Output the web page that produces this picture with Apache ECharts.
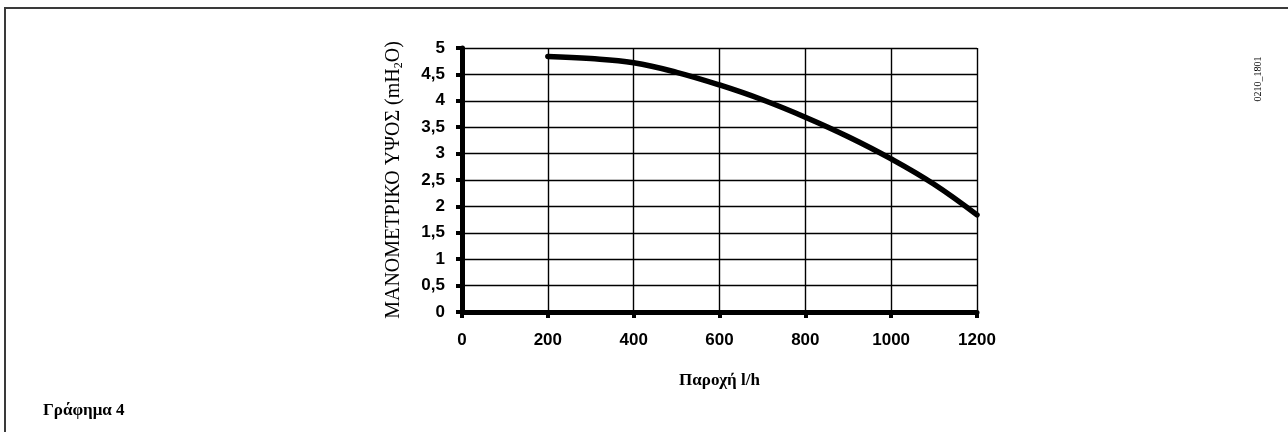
<!DOCTYPE html>
<html>
<head>
<meta charset="utf-8">
<script src="https://cdn.jsdelivr.net/npm/echarts@6/dist/echarts.min.js"></script>
<style>
html,body{margin:0;padding:0;background:#fff;}
#c{width:1288px;height:432px;}
</style>
</head>
<body>
<div id="c"></div>
<script>
// Flow (l/h) and manometric head (mH2O)
const flow = [200, 300, 400, 500, 600, 700, 800, 900, 1000, 1100, 1200];
const head = [4.84, 4.80, 4.72, 4.54, 4.30, 4.02, 3.69, 3.32, 2.90, 2.42, 1.84];
const xTicks = [0, 200, 400, 600, 800, 1000, 1200];
const yTicks = [0, 0.5, 1, 1.5, 2, 2.5, 3, 3.5, 4, 4.5, 5];
const xTitle = 'Παροχή l/h';
const yTitleParts = ['ΜΑΝΟΜΕΤΡΙΚΟ ΥΨΟΣ (mH', '2', 'O)'];
const figTitle = 'Γράφημα 4';
const codeLabel = '0210_1801';

const chart = echarts.init(document.getElementById('c'), null, {renderer: 'canvas'});
const seriesData = flow.map((f, i) => [f, head[i]]);

chart.setOption({
  backgroundColor: '#ffffff',
  animation: false,
  grid: {left: 462, right: 311, top: 48, bottom: 120, containLabel: false},
  xAxis: {
    type: 'value',
    min: xTicks[0],
    max: xTicks[xTicks.length - 1],
    interval: 200,
    name: xTitle,
    nameLocation: 'middle',
    nameGap: 60,
    nameTextStyle: {fontFamily: 'Liberation Serif', fontWeight: 'bold', fontSize: 17, color: '#000'},
    axisLine: {show: true, onZero: false, lineStyle: {color: '#000', width: 5}},
    axisTick: {show: true, length: 6, lineStyle: {color: '#000', width: 4}},
    axisLabel: {margin: 20, fontFamily: 'Liberation Sans', fontWeight: 'bold', fontSize: 17, color: '#000',
      formatter: v => String(v)},
    splitLine: {show: true, lineStyle: {color: '#000', width: 1.4}}
  },
  yAxis: {
    type: 'value',
    min: yTicks[0],
    max: yTicks[yTicks.length - 1],
    interval: 0.5,
    name: '{a|' + yTitleParts[0] + '}{s|' + yTitleParts[1] + '}{a|' + yTitleParts[2] + '}',
    nameLocation: 'middle',
    nameRotate: 90,
    nameGap: 57,
    nameTextStyle: {
      rich: {
        a: {fontFamily: 'Liberation Serif', fontSize: 20, color: '#000', lineHeight: 23},
        s: {fontFamily: 'Liberation Serif', fontSize: 12, color: '#000', lineHeight: 12, verticalAlign: 'bottom', padding: [8, 0, 0, 0]}
      }
    },
    axisLine: {show: true, onZero: false, lineStyle: {color: '#000', width: 5}},
    axisTick: {show: true, length: 6, lineStyle: {color: '#000', width: 4}},
    axisLabel: {
      margin: 17,
      fontFamily: 'Liberation Sans', fontWeight: 'bold', fontSize: 17, color: '#000',
      formatter: v => String(v).replace('.', ',')
    },
    splitLine: {show: true, lineStyle: {color: '#000', width: 1.4}}
  },
  series: [{
    type: 'line',
    data: seriesData,
    smooth: 0.4,
    showSymbol: false,
    lineStyle: {color: '#000', width: 5.5, cap: 'round'}
  }],
  graphic: [
    {type: 'line', shape: {x1: 4, y1: 8, x2: 1288, y2: 8}, style: {stroke: '#3a3a3a', lineWidth: 2}},
    {type: 'line', shape: {x1: 5, y1: 8, x2: 5, y2: 432}, style: {stroke: '#3a3a3a', lineWidth: 2}},
    {type: 'text', x: 43, y: 411,
     style: {text: figTitle, font: 'bold 17px "Liberation Serif"', fill: '#000', align: 'left', verticalAlign: 'middle'}},
    {type: 'text', x: 1258, y: 79, rotation: Math.PI / 2,
     style: {text: codeLabel, font: '10px "Liberation Serif"', fill: '#000', align: 'center', verticalAlign: 'middle'}}
  ]
});
</script>
</body>
</html>
